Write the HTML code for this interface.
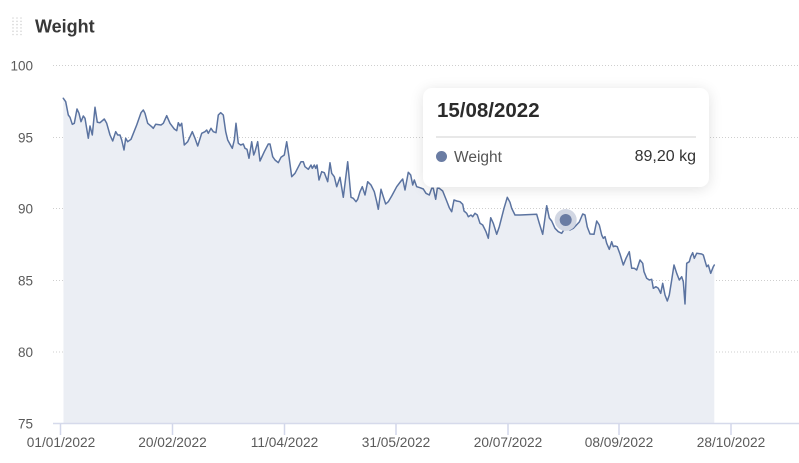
<!DOCTYPE html>
<html><head><meta charset="utf-8">
<style>
html,body{margin:0;padding:0;background:#fff;width:799px;height:463px;overflow:hidden;font-family:"Liberation Sans",sans-serif;}
svg{position:absolute;left:0;top:0;}
.tt{position:absolute;left:423px;top:88px;width:286px;height:99px;background:#fff;border-radius:9px;box-shadow:0 2px 14px rgba(0,0,0,0.12);}
.tt .d{position:absolute;left:14px;top:11px;font-weight:bold;font-size:20.5px;color:#2b2b2b;}
.tt .sep{position:absolute;left:13px;right:13px;top:48px;height:2px;background:#e8e8e8;}
.tt .dot{position:absolute;left:13px;top:63px;width:11px;height:11px;border-radius:50%;background:#6a7ca3;}
.tt .n{position:absolute;left:31px;top:61px;font-size:15.5px;color:#555;}
.tt .v{position:absolute;right:13px;top:60px;font-size:16px;color:#333;}
</style></head><body>
<svg width="799" height="463" viewBox="0 0 799 463" xmlns="http://www.w3.org/2000/svg">
<g fill="#d6d6d6">
<circle cx="13" cy="18" r="0.8"/><circle cx="17" cy="18" r="0.8"/><circle cx="21" cy="18" r="0.8"/>
<circle cx="13" cy="21.3" r="0.8"/><circle cx="17" cy="21.3" r="0.8"/><circle cx="21" cy="21.3" r="0.8"/>
<circle cx="13" cy="24.6" r="0.8"/><circle cx="17" cy="24.6" r="0.8"/><circle cx="21" cy="24.6" r="0.8"/>
<circle cx="13" cy="27.9" r="0.8"/><circle cx="17" cy="27.9" r="0.8"/><circle cx="21" cy="27.9" r="0.8"/>
<circle cx="13" cy="31.2" r="0.8"/><circle cx="17" cy="31.2" r="0.8"/><circle cx="21" cy="31.2" r="0.8"/>
<circle cx="13" cy="34.5" r="0.8"/><circle cx="17" cy="34.5" r="0.8"/><circle cx="21" cy="34.5" r="0.8"/>
</g>
<text x="35" y="32.5" font-family="Liberation Sans, sans-serif" font-weight="bold" font-size="18" fill="#383838">Weight</text>

<g stroke="#cfcfcf" stroke-width="1" stroke-dasharray="1,2">
<line x1="53" y1="65.5" x2="799" y2="65.5"/>
<line x1="53" y1="137.5" x2="799" y2="137.5"/>
<line x1="53" y1="208.5" x2="799" y2="208.5"/>
<line x1="53" y1="280.5" x2="799" y2="280.5"/>
<line x1="53" y1="352" x2="799" y2="352"/>
</g>
<g font-family="Liberation Sans, sans-serif" font-size="13.5" fill="#5a5a5a" text-anchor="end">
<text x="33" y="70.5">100</text>
<text x="33" y="142.5">95</text>
<text x="33" y="213.5">90</text>
<text x="33" y="285.5">85</text>
<text x="33" y="357">80</text>
<text x="33" y="428.5">75</text>
</g>

<polygon fill="#ebeef4" points="63.5,423.3 63.3,98.3 65.7,101.7 68.3,115 70,117.3 72.3,124.3 74.3,123.3 77,109 79,113.3 81,121.7 83.3,116 85,118.3 88.3,138.3 90,126 92.3,135 95,107.3 97.3,122.3 100,122.7 104.3,119 106.7,123.3 110,135 112.7,141 115.7,131.7 117.7,135 120,135 121.7,140 124,150 125.7,138.3 127.7,141.7 131,139.3 136.7,125 141,112.7 143.3,110 145,113.3 147.7,123.3 151.7,126.7 153.3,128.3 155.7,124.3 161,125 163.3,123.3 166.7,115.7 170,123.3 174.3,129 176.7,130.7 178.3,122.7 180,126 181.7,123.3 184.3,145 187.7,141.7 192.3,131.7 195,138.3 197.7,146 201.7,133.3 205,131.7 206.7,130 208.3,133.3 211,128.3 213.3,131.7 216,132.7 218.3,115 220.7,112.7 223.3,115 225.7,131.7 227.7,140 231,146 232.3,148.3 234.3,140 236,123.3 238.3,143.3 240.7,145 243.3,144 245,148.3 247,149.3 249,158.3 251.7,141.7 253.7,155 255,151.7 257.7,141.7 260,161 264.3,151.7 268.3,144 270,144 272.7,156.7 275,160 278.3,162.7 281,157.3 284.3,155 286.7,141.7 289,156.7 291.7,176.7 295,173.3 301,161.7 303.3,161.7 305,166.7 308.3,169.3 311,165 312.3,168.3 314.3,165 315.7,168.3 317,165 319,180 321.7,171.7 324.3,172.7 327.7,181.7 330,162.7 331.7,173.3 334.3,176.7 336.7,186.7 340,177.3 343.3,197.3 347.7,161.7 351,197.3 353.3,198.3 356,201.7 357.7,199.3 360,191.7 362.3,186.7 365,195 367.7,181.7 371,185 374.3,191.7 376.7,201.7 378.3,209.3 381,189.3 383.3,196.7 385.7,204 388.3,201.7 391.7,196 396.7,186.7 401,181 402.7,179 405,190 408.3,172.3 410.7,175 412.7,185 414.3,180 416.7,186.7 420,187.7 423.3,189 426,193.3 429.3,195 431.7,188.3 433.3,188.3 435.7,199.3 437.3,188.3 439.3,188.3 442.7,191 446.7,201 449.3,207.7 451.7,211.7 454,200 456.7,201 460,201.7 462.7,204.3 464,211 466.7,213.3 468.3,216.7 471,215 472.7,216.7 475,213.3 477.3,215 480,223.3 482.7,225 486,231.7 488.3,238.3 490.7,217.7 493.3,223.3 496.7,234.3 499.3,226.7 504,208.3 507.3,197.3 510,202.3 511.7,208.3 515,215 520,215 536.7,214.3 539.3,223.3 542.7,234.3 546.7,205.7 549.3,218 551.7,221 555,228.3 558.3,231.7 561.7,233.3 565,228 570,230 573.3,228.3 579.3,222 582.7,214 585,215 587.3,227 590,234 594,234.3 596.7,221 599.3,225 601.7,235 603.3,238.3 605,236.7 606.7,243.3 609.3,249.3 611.7,241.7 613.3,246.7 615,246 617.3,246.7 620,254 623.3,265 626,258.3 629.3,251.7 631.7,268.3 634.3,268.3 636.7,270 640,260 642.7,263.3 644,271.7 646.7,278.3 649.3,280 651.7,279.3 653.3,288.3 656,286.7 658.3,288.3 660.7,293.3 662.7,283.3 665,295 667.3,301 669.3,295 671.7,280 674,265 676.7,273.3 679.3,280 681.7,276.7 683.3,281.7 685,304 686.7,263.3 689.3,261.7 690.7,256.7 692.7,252.7 694.3,258.3 696.7,253.3 701.7,254 703.3,255 706.7,266.7 708.3,265 710.7,273.3 713.3,266.7 714.3,265 714.3,423.3"/>

<polyline fill="none" stroke="#5b73a0" stroke-width="1.5" stroke-linejoin="round" stroke-linecap="round" points="63.3,98.3 65.7,101.7 68.3,115 70,117.3 72.3,124.3 74.3,123.3 77,109 79,113.3 81,121.7 83.3,116 85,118.3 88.3,138.3 90,126 92.3,135 95,107.3 97.3,122.3 100,122.7 104.3,119 106.7,123.3 110,135 112.7,141 115.7,131.7 117.7,135 120,135 121.7,140 124,150 125.7,138.3 127.7,141.7 131,139.3 136.7,125 141,112.7 143.3,110 145,113.3 147.7,123.3 151.7,126.7 153.3,128.3 155.7,124.3 161,125 163.3,123.3 166.7,115.7 170,123.3 174.3,129 176.7,130.7 178.3,122.7 180,126 181.7,123.3 184.3,145 187.7,141.7 192.3,131.7 195,138.3 197.7,146 201.7,133.3 205,131.7 206.7,130 208.3,133.3 211,128.3 213.3,131.7 216,132.7 218.3,115 220.7,112.7 223.3,115 225.7,131.7 227.7,140 231,146 232.3,148.3 234.3,140 236,123.3 238.3,143.3 240.7,145 243.3,144 245,148.3 247,149.3 249,158.3 251.7,141.7 253.7,155 255,151.7 257.7,141.7 260,161 264.3,151.7 268.3,144 270,144 272.7,156.7 275,160 278.3,162.7 281,157.3 284.3,155 286.7,141.7 289,156.7 291.7,176.7 295,173.3 301,161.7 303.3,161.7 305,166.7 308.3,169.3 311,165 312.3,168.3 314.3,165 315.7,168.3 317,165 319,180 321.7,171.7 324.3,172.7 327.7,181.7 330,162.7 331.7,173.3 334.3,176.7 336.7,186.7 340,177.3 343.3,197.3 347.7,161.7 351,197.3 353.3,198.3 356,201.7 357.7,199.3 360,191.7 362.3,186.7 365,195 367.7,181.7 371,185 374.3,191.7 376.7,201.7 378.3,209.3 381,189.3 383.3,196.7 385.7,204 388.3,201.7 391.7,196 396.7,186.7 401,181 402.7,179 405,190 408.3,172.3 410.7,175 412.7,185 414.3,180 416.7,186.7 420,187.7 423.3,189 426,193.3 429.3,195 431.7,188.3 433.3,188.3 435.7,199.3 437.3,188.3 439.3,188.3 442.7,191 446.7,201 449.3,207.7 451.7,211.7 454,200 456.7,201 460,201.7 462.7,204.3 464,211 466.7,213.3 468.3,216.7 471,215 472.7,216.7 475,213.3 477.3,215 480,223.3 482.7,225 486,231.7 488.3,238.3 490.7,217.7 493.3,223.3 496.7,234.3 499.3,226.7 504,208.3 507.3,197.3 510,202.3 511.7,208.3 515,215 520,215 536.7,214.3 539.3,223.3 542.7,234.3 546.7,205.7 549.3,218 551.7,221 555,228.3 558.3,231.7 561.7,233.3 565,228 570,230 573.3,228.3 579.3,222 582.7,214 585,215 587.3,227 590,234 594,234.3 596.7,221 599.3,225 601.7,235 603.3,238.3 605,236.7 606.7,243.3 609.3,249.3 611.7,241.7 613.3,246.7 615,246 617.3,246.7 620,254 623.3,265 626,258.3 629.3,251.7 631.7,268.3 634.3,268.3 636.7,270 640,260 642.7,263.3 644,271.7 646.7,278.3 649.3,280 651.7,279.3 653.3,288.3 656,286.7 658.3,288.3 660.7,293.3 662.7,283.3 665,295 667.3,301 669.3,295 671.7,280 674,265 676.7,273.3 679.3,280 681.7,276.7 683.3,281.7 685,304 686.7,263.3 689.3,261.7 690.7,256.7 692.7,252.7 694.3,258.3 696.7,253.3 701.7,254 703.3,255 706.7,266.7 708.3,265 710.7,273.3 713.3,266.7 714.3,265"/>

<circle cx="565.7" cy="220" r="11" fill="#d2d7e3"/>
<circle cx="565.7" cy="220" r="6" fill="#6a7ca3"/>

<line x1="53" y1="423.5" x2="799" y2="423.5" stroke="#d6daeb" stroke-width="1.5"/>
<g stroke="#d2d7ea" stroke-width="1.5">
<line x1="60.5" y1="424" x2="60.5" y2="435"/>
<line x1="172.5" y1="424" x2="172.5" y2="435"/>
<line x1="284.5" y1="424" x2="284.5" y2="435"/>
<line x1="396" y1="424" x2="396" y2="435"/>
<line x1="508" y1="424" x2="508" y2="435"/>
<line x1="619" y1="424" x2="619" y2="435"/>
<line x1="731" y1="424" x2="731" y2="435"/>
</g>
<g font-family="Liberation Sans, sans-serif" font-size="13.7" fill="#5a5a5a" text-anchor="middle">
<text x="61" y="447">01/01/2022</text>
<text x="172.5" y="447">20/02/2022</text>
<text x="284.5" y="447">11/04/2022</text>
<text x="396" y="447">31/05/2022</text>
<text x="508" y="447">20/07/2022</text>
<text x="619" y="447">08/09/2022</text>
<text x="731" y="447">28/10/2022</text>
</g>
</svg>

<div class="tt">
<div class="d">15/08/2022</div>
<div class="sep"></div>
<div class="dot"></div>
<div class="n">Weight</div>
<div class="v">89,20 kg</div>
</div>
</body></html>
